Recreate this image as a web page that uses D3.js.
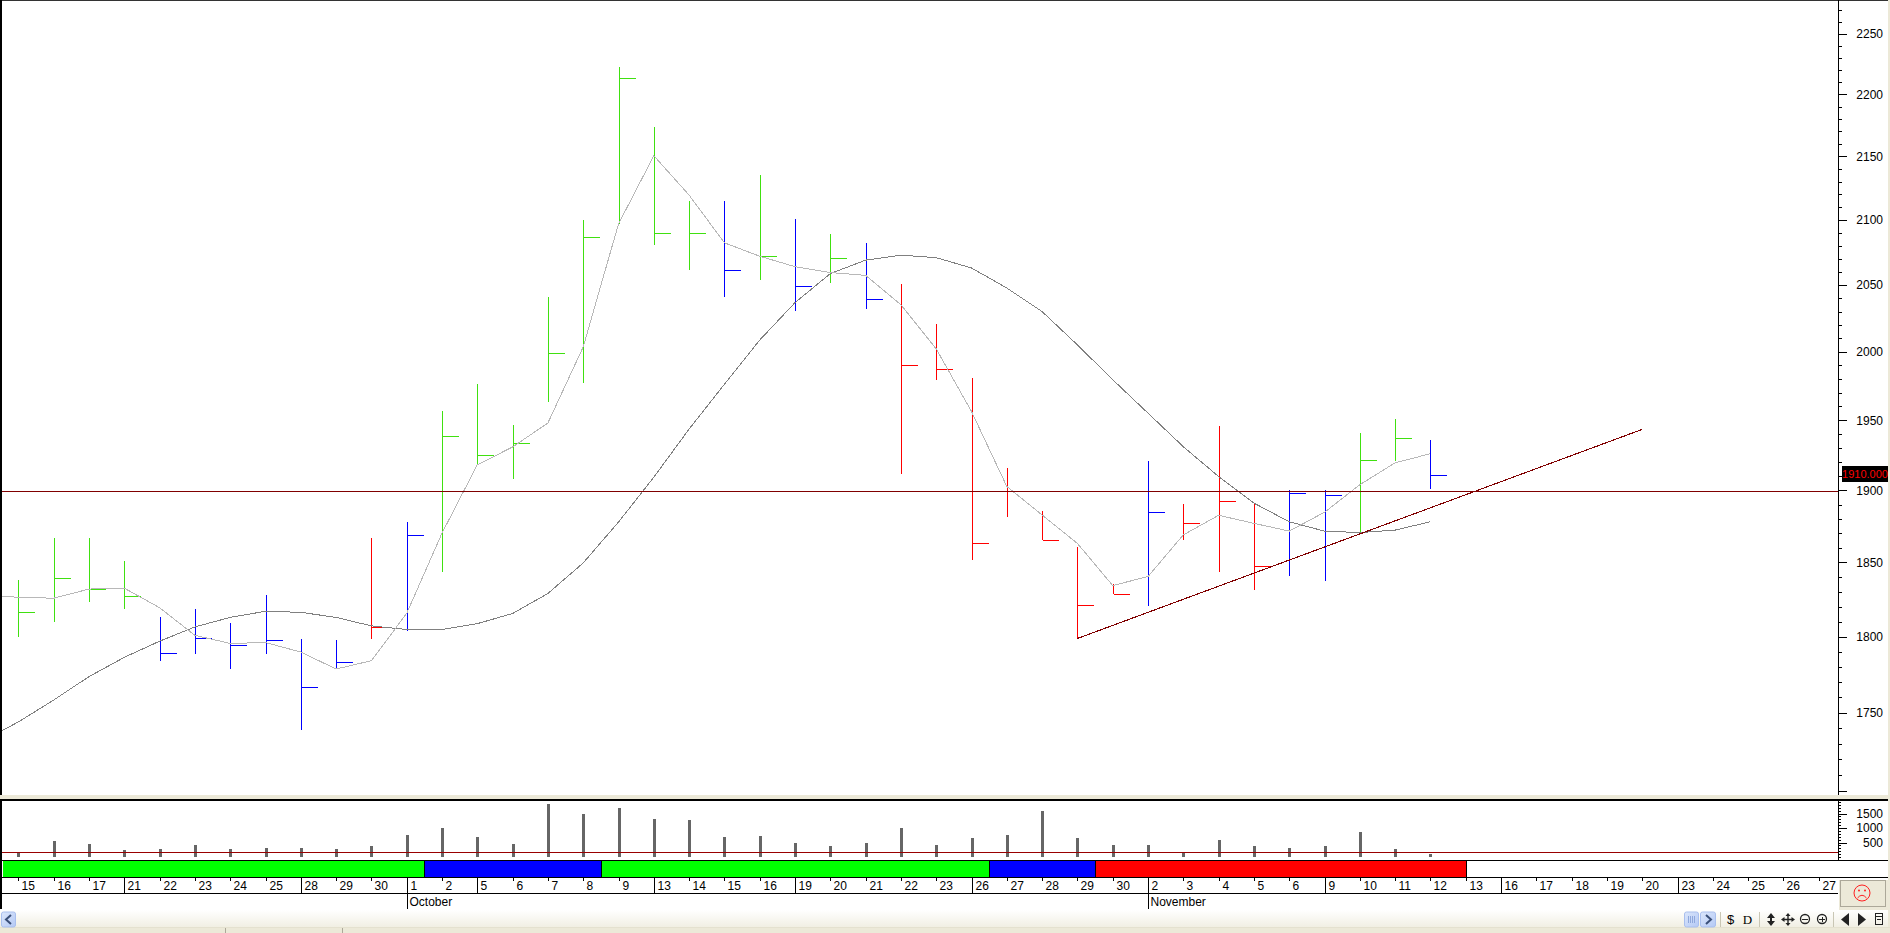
<!DOCTYPE html>
<html>
<head>
<meta charset="utf-8">
<title>Bar chart</title>
<script src="https://cdn.jsdelivr.net/npm/d3@7/dist/d3.min.js"></script>
<style>
html,body{margin:0;padding:0;background:#ece9d8;overflow:hidden}
svg{display:block}
text{font-family:"Liberation Sans",Arial,sans-serif;font-size:12px;fill:#000}
</style>
</head>
<body>
<div id="chart"></div>
<script>
const dayLabels = [15,16,17,21,22,23,24,25,28,29,30,1,2,5,6,7,8,9,13,14,15,16,19,20,21,22,23,26,27,28,29,30,2,3,4,5,6,9,10,11,12,13,16,17,18,19,20,23,24,25,26,27];
const weekStartIndex = [3,8,11,13,18,22,27,32,37,42,47];
const months = [{name:"October",index:11},{name:"November",index:32}];

const highs = [1838.2,1866.7,1866.7,1851.1,1813,1818.5,1808.9,1828,1798.2,1797.5,1866.7,1877.9,1956.5,1976.3,1946.5,2041.2,2100,2222.6,2173.5,2115,2115,2135.5,2100.8,2089,2082.2,2050.8,2020.7,1980.9,1916,1885.7,1860.6,1835.3,1920.9,1890.6,1945.8,1890.6,1900.5,1900.5,1940.7,1950.9,1935.7];
const lows = [1799.7,1809.8,1823.4,1818.7,1784,1788.6,1778.7,1788.6,1738.8,1778.5,1798.4,1803.7,1843.6,1918.1,1907.8,1963,1976.8,2096.9,2081,2061.2,2040.8,2053.6,2030.8,2051.4,2031.6,1911.3,1979,1852,1881.6,1865.2,1798.7,1828.4,1820.7,1865.6,1843.8,1831.6,1841.1,1837.7,1870.6,1921.1,1901];
const closes = [1816.2,1839.3,1831.9,1827.1,1788.8,1798.9,1794.1,1798,1766.6,1782.9,1806.2,1868.8,1938.3,1924.9,1933.5,1999.1,2086.7,2213.4,2089.6,2089.6,2061.4,2072,2049.2,2070.7,2039.5,1990.1,1987.3,1863.1,1899.3,1865.2,1821,1828.4,1884.7,1877,1892.5,1847.5,1898.1,1896.7,1921.4,1936.9,1910.8];
const barColors = ["g","g","g","g","b","b","b","b","b","b","r","b","g","g","g","g","g","g","g","g","b","g","b","g","b","r","r","r","r","r","r","r","b","r","r","r","b","b","g","g","b"];

// moving averages: first entry belongs to the session before the visible window (index -1)
const shortMA = [1827.3,1826.4,1825.7,1831.9,1832.5,1819.3,1800.8,1795.4,1796,1789.7,1778.5,1784,1815.5,1870.2,1918.1,1930.8,1948,2003.6,2096.9,2150.5,2119.4,2082.3,2072,2064,2059.5,2057.4,2035.1,2002.2,1956.3,1902.8,1882.8,1863.1,1834.3,1840.4,1869,1882.6,1877,1871.6,1884.7,1904,1919.5,1926];
const longMA = [1732,1744,1758.2,1773.5,1786.2,1796.9,1806.4,1812.8,1816.9,1816.2,1812.8,1807.1,1804.7,1804.7,1808.6,1815.4,1828.9,1849.7,1877.9,1909.3,1943.6,1976.1,2008.7,2036.7,2058.7,2069,2072.8,2070.9,2063,2047.8,2030,2005.1,1979.5,1955.1,1931,1909.8,1891.1,1878.1,1871.6,1870.6,1872.3,1878.1];

const volumes = [162,541,438,252,265,403,265,300,300,265,369,769,1010,700,438,1817,1472,1679,1300,1265,700,734,472,390,493,1010,424,665,769,1596,665,424,424,183,596,369,321,369,852,286,114];
const volumeRef = 160;

const horizontalLevel = 1899.5;
const trendLine = [{i:30,v:1798.7},{i:46,v:1943.4}];
const lastPrice = 1910;

const priceLabels = [1750,1800,1850,1900,1950,2000,2050,2100,2150,2200,2250];
const volumeLabels = [500,1000,1500];
const stateBands = [
  {from:-1,to:11.5,c:"#00ff00"},
  {from:11.5,to:16.5,c:"#0000ff"},
  {from:16.5,to:27.5,c:"#00ff00"},
  {from:27.5,to:30.5,c:"#0000ff"},
  {from:30.5,to:41,c:"#ff0000"}
];
const palette = {g:"#40e010",b:"#0000ff",r:"#ff0000"};

const W=1890,H=933,axisX=1838;
const svg=d3.select("#chart").append("svg").attr("width",W).attr("height",H);
const crisp="crispEdges";
const defs=svg.append("defs");
defs.append("clipPath").attr("id","plot").append("rect").attr("x",2).attr("y",1).attr("width",axisX-2).attr("height",794);
defs.append("clipPath").attr("id","bandclip").append("rect").attr("x",3).attr("y",860).attr("width",axisX).attr("height",18);
const grad=defs.append("linearGradient").attr("id","sb").attr("x1",0).attr("y1",0).attr("x2",0).attr("y2",1);
grad.append("stop").attr("offset","0").attr("stop-color","#ffffff");
grad.append("stop").attr("offset","1").attr("stop-color","#f1efe3");
const btn=defs.append("linearGradient").attr("id","btn").attr("x1",0).attr("y1",0).attr("x2",1).attr("y2",1);
btn.append("stop").attr("offset","0").attr("stop-color","#dbe6fb");
btn.append("stop").attr("offset","1").attr("stop-color","#b4c9f5");

// scales
const x=d3.scaleLinear().domain([0,51]).range([18.4,1818.7]);
const y=d3.scaleLog().domain([1700,2250]).range([791,33.5]);
const yv=d3.scaleLinear().domain([0,1500]).range([857,813.5]);
const px=i=>Math.round(x(i))+0.5;

// panels
svg.append("rect").attr("x",0).attr("y",0).attr("width",1888).attr("height",795).attr("fill","#fff");
svg.append("rect").attr("x",0).attr("y",799).attr("width",1888).attr("height",81).attr("fill","#fff");
svg.append("rect").attr("x",0).attr("y",880).attr("width",axisX+1).attr("height",30).attr("fill","#fff");
svg.append("rect").attr("x",axisX).attr("y",877).attr("width",50).attr("height",3).attr("fill","#fff");
svg.append("rect").attr("x",0).attr("y",910).attr("width",1888).attr("height",17).attr("fill","url(#sb)");

// frame lines
const hl=(x1,x2,yy,c,w)=>svg.append("line").attr("x1",x1).attr("x2",x2).attr("y1",yy).attr("y2",yy).attr("stroke",c||"#000").attr("stroke-width",w||1).attr("shape-rendering",crisp);
const vl=(xx,y1,y2,c,w)=>svg.append("line").attr("x1",xx).attr("x2",xx).attr("y1",y1).attr("y2",y2).attr("stroke",c||"#000").attr("stroke-width",w||1).attr("shape-rendering",crisp);
hl(0,1888,0.5,"#333");
hl(0,1888,799.5,"#000",2);
hl(0,1888,860.5,"#000");
hl(0,1888,877.5,"#000");
hl(0,axisX,893.5,"#000");
vl(1,0,795,"#000",2);
vl(1,799,909,"#000",2);

// state band
const bands=svg.append("g").attr("clip-path","url(#bandclip)");
bands.selectAll("rect").data(stateBands).join("rect")
  .attr("x",d=>Math.round(x(d.from))).attr("y",861)
  .attr("width",d=>Math.round(x(d.to))-Math.round(x(d.from))).attr("height",16)
  .attr("fill",d=>d.c).attr("shape-rendering",crisp);
bands.selectAll("line").data(stateBands).join("line")
  .attr("x1",d=>Math.round(x(d.to))+.5).attr("x2",d=>Math.round(x(d.to))+.5)
  .attr("y1",861).attr("y2",877).attr("stroke","#000").attr("shape-rendering",crisp);

// price plot
const plot=svg.append("g").attr("clip-path","url(#plot)");
const bars=plot.append("g");
highs.forEach((h,i)=>{
  const c=palette[barColors[i]];
  bars.append("line").attr("x1",px(i)).attr("x2",px(i)).attr("y1",y(h)).attr("y2",y(lows[i]))
    .attr("stroke",c).attr("shape-rendering",crisp);
  bars.append("line").attr("x1",px(i)).attr("x2",px(i)+16).attr("y1",Math.round(y(closes[i]))+.5).attr("y2",Math.round(y(closes[i]))+.5)
    .attr("stroke",c).attr("shape-rendering",crisp);
});
const lineOf=d3.line().x((d,k)=>x(k-1)).y(d=>y(d));
plot.append("path").attr("d",lineOf(longMA)).attr("fill","none").attr("stroke","#808080").attr("stroke-width",1).attr("shape-rendering",crisp);
plot.append("path").attr("d",lineOf(shortMA)).attr("fill","none").attr("stroke","#b8b8b8").attr("stroke-width",1).attr("shape-rendering",crisp);
plot.append("line").attr("x1",2).attr("x2",axisX).attr("y1",491.5).attr("y2",491.5).datum(horizontalLevel)
  .attr("y1",d=>Math.round(y(d))+.5).attr("y2",d=>Math.round(y(d))+.5).attr("stroke","#800000").attr("shape-rendering",crisp);
plot.append("path").attr("d",d3.line().x(d=>x(d.i)).y(d=>y(d.v))(trendLine)).attr("fill","none").attr("stroke","#800000").attr("stroke-width",1.1).attr("shape-rendering",crisp);

// volume
const vol=svg.append("g");
vol.selectAll("rect").data(volumes).join("rect")
  .attr("x",(d,i)=>Math.round(x(i))-1).attr("width",3)
  .attr("y",d=>yv(d)).attr("height",d=>yv(0)-yv(d))
  .attr("fill","#666").attr("shape-rendering",crisp);
svg.append("line").attr("x1",2).attr("x2",axisX).attr("y1",Math.round(yv(volumeRef))+.5).attr("y2",Math.round(yv(volumeRef))+.5).attr("stroke","#990000").attr("shape-rendering",crisp);

// price axis
const minorTicks=d3.range(1700,2280,10);
const gMinor=svg.append("g").attr("transform",`translate(${axisX},0)`)
  .call(d3.axisRight(y).tickValues(minorTicks).tickSize(4).tickFormat(""));
const gMajor=svg.append("g").attr("transform",`translate(${axisX},0)`)
  .call(d3.axisRight(y).tickValues([1700].concat(priceLabels)).tickSize(9).tickFormat(d=>d===1700?"":d));
[gMinor,gMajor].forEach(g=>{
  g.select(".domain").remove();
  g.selectAll("line").attr("stroke","#000").attr("shape-rendering",crisp);
  g.selectAll("text").attr("x",45).attr("text-anchor","end").attr("fill","#000").style("font-size","12px").style("font-family",'"Liberation Sans",Arial,sans-serif');
});
vl(axisX+.5,0,795,"#000");

// volume axis
const gvMinor=svg.append("g").attr("transform",`translate(${axisX},0)`)
  .call(d3.axisRight(yv).tickValues(d3.range(0,2000,100)).tickSize(3).tickFormat(""));
const gvMajor=svg.append("g").attr("transform",`translate(${axisX},0)`)
  .call(d3.axisRight(yv).tickValues(volumeLabels).tickSize(9).tickFormat(d=>d));
[gvMinor,gvMajor].forEach(g=>{
  g.select(".domain").remove();
  g.selectAll("line").attr("stroke","#000").attr("shape-rendering",crisp);
  g.selectAll("text").attr("x",45).attr("text-anchor","end").attr("fill","#000").style("font-size","12px").style("font-family",'"Liberation Sans",Arial,sans-serif');
});
vl(axisX+.5,799,860,"#000");

// last price flag
svg.append("rect").attr("x",1842).attr("y",Math.round(y(lastPrice))-10).attr("width",46).attr("height",16).attr("fill","#000");
svg.append("text").attr("x",1865).attr("y",Math.round(y(lastPrice))-2).attr("dy","0.35em").attr("text-anchor","middle")
  .style("fill","#ff0000").style("font-size","11px").text(lastPrice.toFixed(3));

// date axis
const days=svg.append("g");
dayLabels.forEach((d,i)=>{
  const tall=weekStartIndex.includes(i);
  vl(px(i),878,tall?893:881,"#000");
  days.append("text").attr("x",px(i)+3).attr("y",886).attr("dy","0.35em").text(d);
});
months.forEach(m=>{
  vl(px(m.index),893,909,"#000");
  svg.append("text").attr("x",px(m.index)+2).attr("y",902).attr("dy","0.35em").text(m.name);
});

// status strip
hl(0,1890,927.5,"#e4e1cf");
vl(225.5,928,933,"#aca899");
vl(342.5,928,933,"#aca899");

// scroll buttons
const button=(bx,w)=>svg.append("rect").attr("x",bx).attr("y",912).attr("width",w).attr("height",15).attr("rx",2).attr("fill","url(#btn)").attr("stroke","#a9bfee");
button(1.5,14);
svg.append("path").attr("d","M11 915 L6 919.5 L11 924").attr("fill","none").attr("stroke","#3a4f78").attr("stroke-width",2);
button(1684.5,14);
d3.range(1688,1696,2).forEach(a=>vl(a+.5,916,923,"#8fa8dc"));
button(1700.5,15);
svg.append("path").attr("d","M1706 915 L1711 919.5 L1706 924").attr("fill","none").attr("stroke","#3a4f78").attr("stroke-width",2);

// toolbar
[1720,1759,1833].forEach(a=>vl(a+.5,912,927,"#c9c6b4"));
const ic="#222";
svg.append("text").attr("x",1730.5).attr("y",919.5).attr("dy","0.35em").attr("text-anchor","middle").style("font-size","13px").text("$");
svg.append("text").attr("x",1747.5).attr("y",919.5).attr("dy","0.35em").attr("text-anchor","middle").style("font-family",'"Liberation Serif",serif').style("font-size","13px").text("D");
svg.append("path").attr("d","M1771 913 L1775 918 L1772 918 L1772 921 L1775 921 L1771 926 L1767 921 L1770 921 L1770 918 L1767 918 Z").attr("fill",ic);
svg.append("path").attr("d","M1788 913 L1790.5 916 L1788.7 916 L1788.7 918.8 L1791.5 918.8 L1791.5 917 L1795 919.5 L1791.5 922 L1791.5 920.2 L1788.7 920.2 L1788.7 923 L1790.5 923 L1788 926 L1785.5 923 L1787.3 923 L1787.3 920.2 L1784.5 920.2 L1784.5 922 L1781 919.5 L1784.5 917 L1784.5 918.8 L1787.3 918.8 L1787.3 916 L1785.5 916 Z").attr("fill",ic);
svg.append("circle").attr("cx",1805).attr("cy",919).attr("r",4.5).attr("fill","none").attr("stroke",ic).attr("stroke-width",1.3);
hl(1802,1808,919.5,ic);
svg.append("circle").attr("cx",1822).attr("cy",919).attr("r",4.5).attr("fill","none").attr("stroke",ic).attr("stroke-width",1.3);
hl(1819,1825,919.5,ic); vl(1822.5,917,922,ic);
svg.append("path").attr("d","M1849 913 L1841 919.5 L1849 926 Z").attr("fill",ic);
svg.append("path").attr("d","M1858 913 L1866 919.5 L1858 926 Z").attr("fill",ic);
svg.append("rect").attr("x",1875.5).attr("y",913.5).attr("width",7).attr("height",11).attr("fill","none").attr("stroke",ic);
hl(1876,1882,916.5,ic); hl(1877,1881,919.5,ic);

// mood box
svg.append("rect").attr("x",1840.5).attr("y",880.5).attr("width",45).attr("height",26).attr("fill","#ece9d8").attr("stroke","#aca899");
svg.append("circle").attr("cx",1862).attr("cy",893).attr("r",8).attr("fill","none").attr("stroke","#ff2020");
svg.append("circle").attr("cx",1859).attr("cy",890.5).attr("r",1).attr("fill","#ff2020");
svg.append("circle").attr("cx",1865).attr("cy",890.5).attr("r",1).attr("fill","#ff2020");
svg.append("path").attr("d","M1857.5 898 Q1862 892.5 1866.5 898").attr("fill","none").attr("stroke","#ff2020");
</script>
</body>
</html>
